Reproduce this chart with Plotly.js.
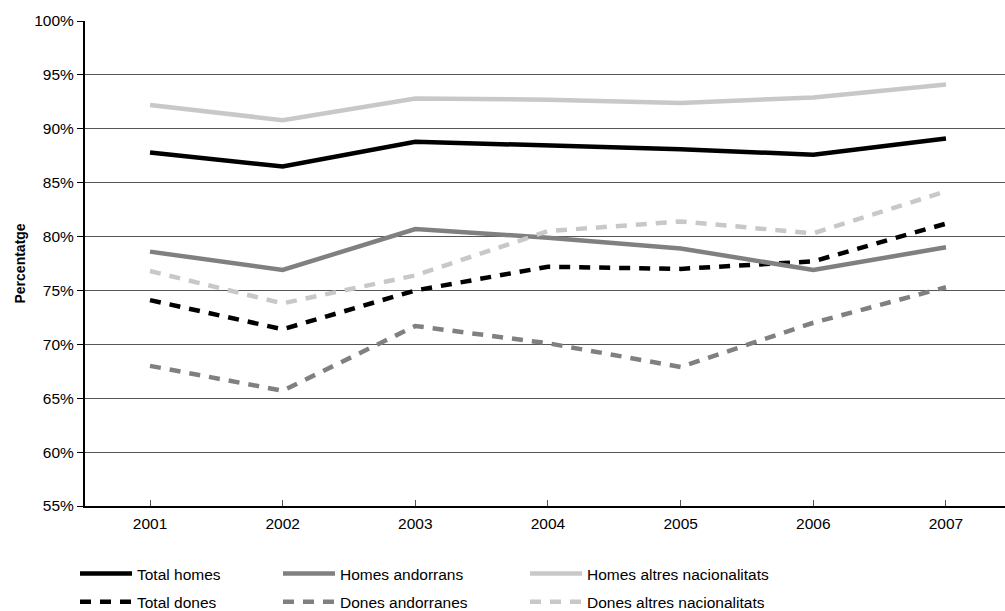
<!DOCTYPE html>
<html>
<head>
<meta charset="utf-8">
<script src="https://cdn.plot.ly/plotly-3.0.1.min.js"></script>
<style>html,body{margin:0;padding:0;background:#fff;}#chart{width:1005px;height:611px;}</style>
</head>
<body>
<div id="chart"></div>
<script>
const years = [2001, 2002, 2003, 2004, 2005, 2006, 2007];
const totalHomes = [87.8, 86.5, 88.8, 88.5, 88.1, 87.6, 89.1];
const totalDones = [74.1, 71.4, 75.0, 77.2, 77.0, 77.7, 81.2];
const homesAndorrans = [78.6, 76.9, 80.7, 79.9, 78.9, 76.9, 79.0];
const donesAndorranes = [68.0, 65.7, 71.7, 70.1, 67.9, 72.0, 75.3];
const homesAltres = [92.2, 90.8, 92.8, 92.7, 92.4, 92.9, 94.1];
const donesAltres = [76.8, 73.8, 76.4, 80.5, 81.4, 80.3, 84.2];
const yTicks = [55, 60, 65, 70, 75, 80, 85, 90, 95, 100];
const yTitle = 'Percentatge';

const FONT = 'Liberation Sans, Arial, Helvetica, sans-serif';
const FS = 15.5;
const DASH = '11px,9px';
function tr(name, y, color, dash, legend) {
  return {
    x: years, y: y, name: name, type: 'scatter', mode: 'lines',
    line: {color: color, width: 4.5, dash: dash},
    legend: legend, legendgroup: name, hoverinfo: 'skip'
  };
}
const data = [
  tr('Total homes', totalHomes, '#000000', 'solid', 'legend'),
  tr('Total dones', totalDones, '#000000', DASH, 'legend'),
  tr('Homes andorrans', homesAndorrans, '#808080', 'solid', 'legend2'),
  tr('Dones andorranes', donesAndorranes, '#808080', DASH, 'legend2'),
  tr('Homes altres nacionalitats', homesAltres, '#c8c8c8', 'solid', 'legend3'),
  tr('Dones altres nacionalitats', donesAltres, '#c8c8c8', DASH, 'legend3')
];
function leg(xpx) {
  return {
    x: xpx / 1005, xref: 'container', xanchor: 'left',
    y: (611 - 557) / 611, yref: 'container', yanchor: 'top',
    orientation: 'v', itemwidth: 52, tracegroupgap: 5,
    font: {family: FONT, size: FS, color: '#000'},
    bgcolor: 'rgba(0,0,0,0)', borderwidth: 0
  };
}
const layout = {
  width: 1005, height: 611,
  margin: {l: 85, r: 0, t: 21, b: 105, autoexpand: false},
  paper_bgcolor: '#fff', plot_bgcolor: '#fff',
  font: {family: FONT, size: FS, color: '#000'},
  showlegend: true,
  legend: leg(75),
  legend2: leg(278),
  legend3: leg(525),
  xaxis: {
    range: [2000.51, 2007.445],
    tickvals: years, ticktext: years.map(String),
    ticks: 'inside', ticklen: 6, tickcolor: '#555', tickwidth: 1,
    showline: true, linecolor: '#000', linewidth: 2,
    showgrid: false, zeroline: false, automargin: false,
    ticklabelstandoff: 2,
    tickfont: {family: FONT, size: FS, color: '#000'}
  },
  yaxis: {
    range: [55, 100],
    tickvals: yTicks, ticktext: yTicks.map(v => v + '%'),
    ticks: 'outside', ticklen: 6, tickcolor: '#000', tickwidth: 1,
    showline: true, linecolor: '#000', linewidth: 2,
    showgrid: true, gridcolor: '#555', gridwidth: 1,
    zeroline: false, automargin: false,
    tickfont: {family: FONT, size: FS, color: '#000'}
  },
  annotations: [{
    text: '<b>' + yTitle + '</b>', textangle: -90,
    xref: 'paper', yref: 'paper', x: (19 - 85) / 920, y: 0.5,
    xanchor: 'center', yanchor: 'middle', showarrow: false,
    font: {family: FONT, size: 14, color: '#000'}
  }]
};
Plotly.newPlot('chart', data, layout, {displayModeBar: false, staticPlot: true});
</script>
</body>
</html>
